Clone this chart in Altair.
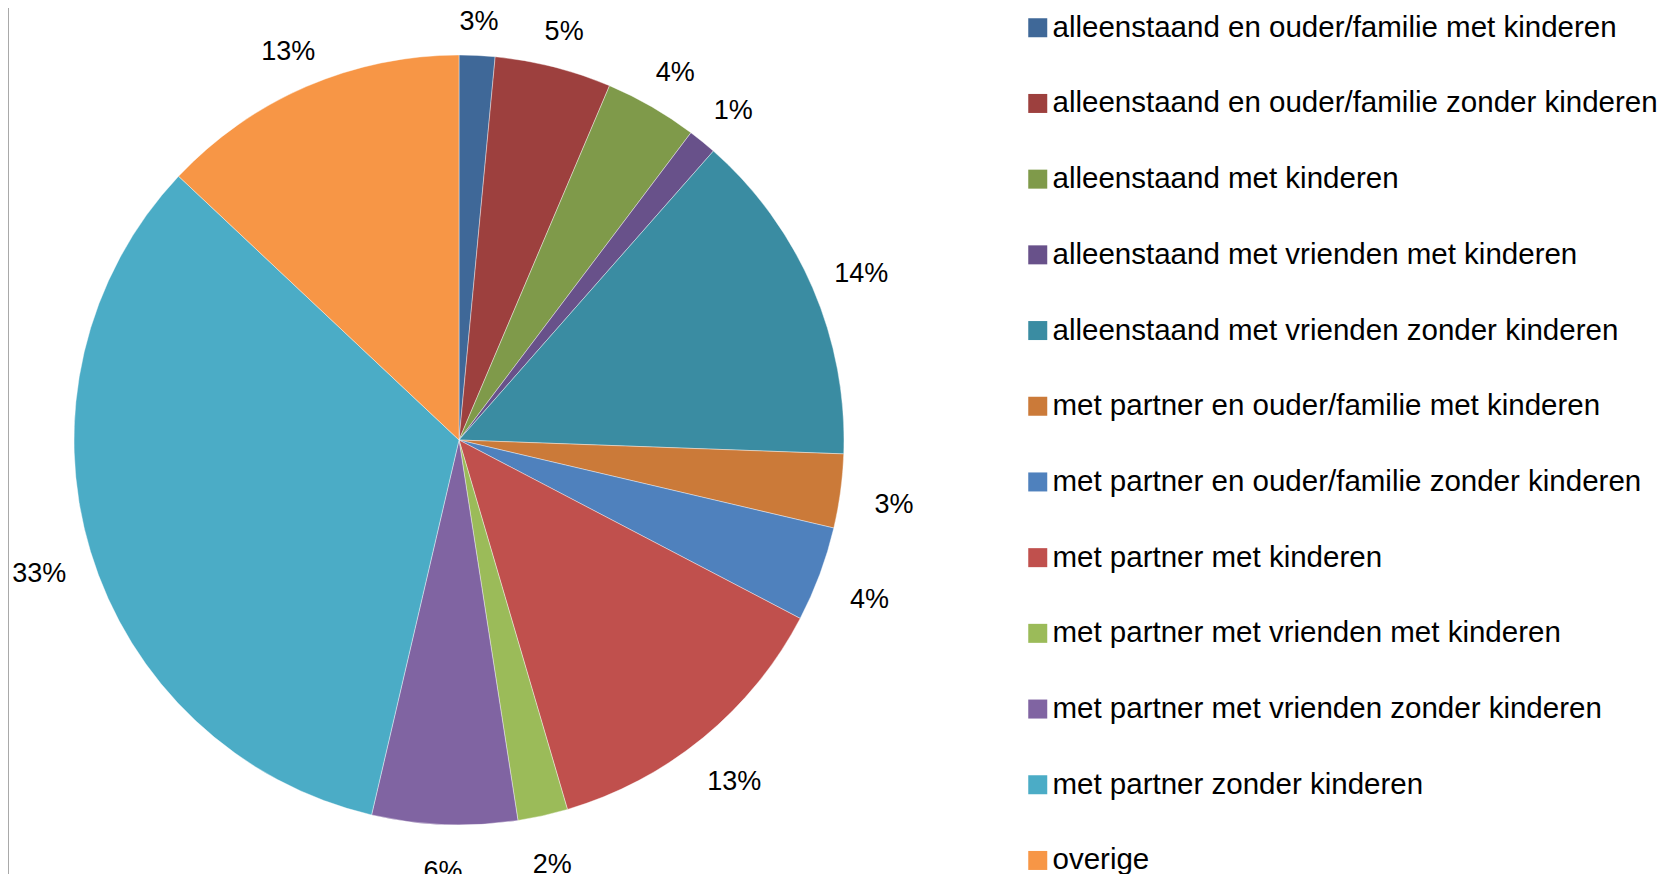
import altair as alt
import pandas as pd

categories = [
    "alleenstaand en ouder/familie met kinderen",
    "alleenstaand en ouder/familie zonder kinderen",
    "alleenstaand met kinderen",
    "alleenstaand met vrienden met kinderen",
    "alleenstaand met vrienden zonder kinderen",
    "met partner en ouder/familie met kinderen",
    "met partner en ouder/familie zonder kinderen",
    "met partner met kinderen",
    "met partner met vrienden met kinderen",
    "met partner met vrienden zonder kinderen",
    "met partner zonder kinderen",
    "overige",
]
shares = [1.5, 4.9, 3.9, 1.2, 14.1, 3.1, 4.0, 12.8, 2.1, 6.1, 33.4, 13.0]
labels = ["3%", "5%", "4%", "1%", "14%", "3%", "4%", "13%", "2%", "6%", "33%", "13%"]
colors = ["#3F6898", "#9D403E", "#7F9A4A", "#68518A", "#3A8CA2", "#CB7A39",
          "#4F81BD", "#C0504D", "#9BBB59", "#8064A2", "#4BACC6", "#F79646"]

df = pd.DataFrame({"cat": categories, "share": shares, "label": labels,
                   "idx": list(range(len(categories)))})

CX, CY, R = 451, 432, 385
FONT = "Liberation Sans"

pie = alt.Chart(df).mark_arc(radius=R, stroke="white", strokeWidth=0.4).encode(
    theta=alt.Theta("share:Q", stack=True),
    order=alt.Order("idx:Q"),
    x=alt.value(CX), y=alt.value(CY),
    color=alt.Color(
        "cat:N",
        scale=alt.Scale(domain=categories, range=colors),
        sort=categories,
        legend=alt.Legend(
            title=None, orient="none", legendX=1015, legendY=5,
            symbolType="square", symbolSize=361, symbolStrokeWidth=0,
            labelFont=FONT, labelFontSize=29.5, labelColor="#000000",
            labelOffset=0, labelLimit=800, rowPadding=44.7, padding=0,
            symbolLimit=50,
        ),
    ),
)

text = alt.Chart(df).transform_window(
    cum="sum(share)", sort=[alt.SortField("idx")],
    frame=[None, 0],
).transform_joinaggregate(
    total="sum(share)"
).transform_calculate(
    ang="(datum.cum - datum.share/2) / datum.total * 2 * PI",
    lr="425 + 14 * abs(sin(datum.ang))",
).mark_text(font=FONT, fontSize=27, color="#000000", align="center",
            baseline="middle", dy=7).encode(
    x=alt.value(CX), y=alt.value(CY),
    theta=alt.Theta("ang:Q", scale=None),
    radius=alt.Radius("lr:Q", scale=None),
    text="label:N",
)

border = alt.Chart(pd.DataFrame({"a": [0]})).mark_rule(color="#8C8C8C", strokeWidth=1.5).encode(
    x=alt.value(0), y=alt.value(0), y2=alt.value(866)
)

chart = alt.layer(pie, text, border).properties(
    width=1652, height=866,
    autosize=alt.AutoSizeParams(type="none"),
    padding=0,
).configure_view(stroke=None)

chart.save("out.html", embed_options={"renderer": "svg", "actions": False})
